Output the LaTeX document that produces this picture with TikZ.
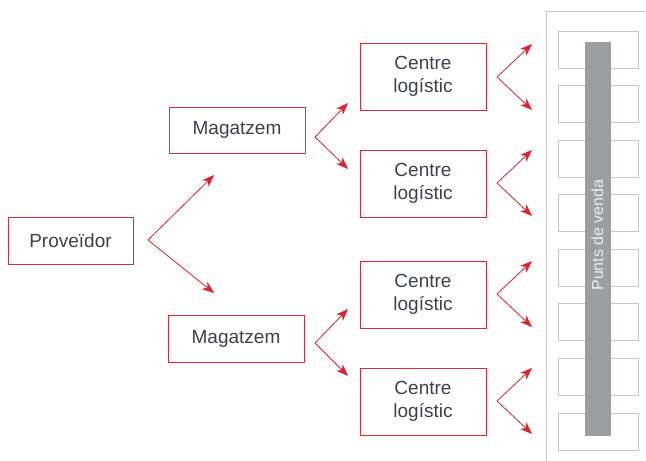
\documentclass[tikz,border=0pt]{standalone}
\usepackage{fontspec}
\setmainfont{Liberation Sans}
\usetikzlibrary{arrows.meta}
\definecolor{brandred}{HTML}{E31E2D}
\definecolor{boxred}{HTML}{E02A38}
\definecolor{txtgrey}{HTML}{3C414C}
\definecolor{framegrey}{HTML}{C6C6C6}
\definecolor{bargrey}{HTML}{9D9EA2}
\definecolor{barlabel}{HTML}{EDEDED}

\begin{document}
\begin{tikzpicture}[x=1pt,y=-1pt,
  box/.style={draw=boxred, line width=0.9pt, text=txtgrey, align=center,
    font=\fontsize{19}{23}\selectfont, inner sep=0pt},
  flow/.style={draw=brandred, line width=0.8pt,
    -{Stealth[length=12pt,width=9pt,inset=3.5pt]}},
  slot/.style={draw=framegrey, line width=0.8pt, minimum width=80pt,
    minimum height=37pt, inner sep=0pt}]
\useasboundingbox (0,0) rectangle (646,461);

% supply chain boxes
\node[box, minimum width=125pt, minimum height=47pt] (prov) at (70.5,240.5) {Proveïdor};
\node[box, minimum width=136pt, minimum height=46pt] (mag1) at (237,130) {Magatzem};
\node[box, minimum width=136pt, minimum height=47pt] (mag2) at (236,338.5) {Magatzem};
\foreach \n/\y in {c1/76.5, c2/183.5, c3/294.5, c4/401.5}
  \node[box, minimum width=126pt, minimum height=67pt] (\n) at (423,\y) {Centre\\logístic};

% points of sale panel
\draw[framegrey, line width=0.9pt] (546,461) -- (546,11) -- (646,11);
\foreach \i in {0,...,7}
  \node[slot] (s\i) at (598,{49.5+54.57*\i}) {};
\node[fill=bargrey, minimum width=26pt, minimum height=394pt, inner sep=0pt] (bar) at (598,239) {};
\node[rotate=90, text=barlabel, font=\fontsize{16}{18}\selectfont, inner sep=0pt] (barlbl) at (597.5,235) {Punts de venda};

% branching arrows
\coordinate (o0) at (148,240);
\coordinate (t0a) at (214,175);
\coordinate (t0b) at (214,293);
\draw[flow] (o0) -- (t0a);
\draw[flow] (o0) -- (t0b);

\coordinate (o1) at (315,137);
\coordinate (t1a) at (348,103);
\coordinate (t1b) at (348,169);
\draw[flow] (o1) -- (t1a);
\draw[flow] (o1) -- (t1b);

\coordinate (o2) at (315,343);
\coordinate (t2a) at (348,309);
\coordinate (t2b) at (348,376);
\draw[flow] (o2) -- (t2a);
\draw[flow] (o2) -- (t2b);

\foreach \k/\y in {3/77, 4/183, 5/294, 6/401} {
  \coordinate (o\k) at (497,\y);
  \coordinate (t\k a) at (532,{\y-33});
  \coordinate (t\k b) at (532,{\y+33});
  \draw[flow] (o\k) -- (t\k a);
  \draw[flow] (o\k) -- (t\k b);
}
\end{tikzpicture}
\end{document}
